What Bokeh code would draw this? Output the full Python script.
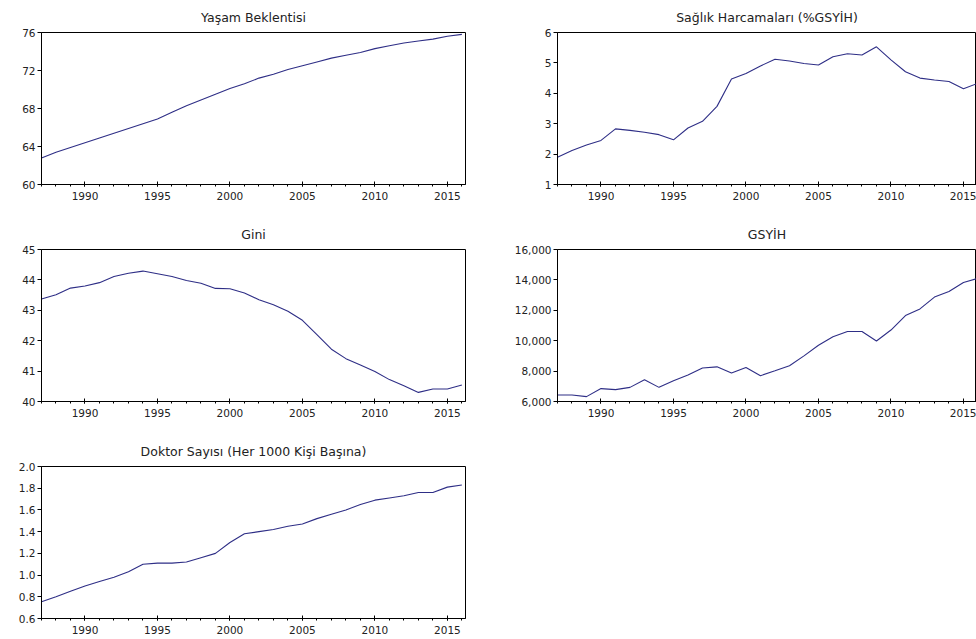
from bokeh.plotting import figure
from bokeh.layouts import column, row
from bokeh.models import FixedTicker, NumeralTickFormatter, Range1d
from bokeh.embed import file_html
from bokeh.resources import INLINE

years = list(range(1987, 2017))

yasam = [62.8, 63.4, 63.9, 64.4, 64.9, 65.4, 65.9, 66.4, 66.9, 67.6,
         68.3, 68.9, 69.5, 70.1, 70.6, 71.2, 71.6, 72.1, 72.5, 72.9,
         73.3, 73.6, 73.9, 74.3, 74.6, 74.9, 75.1, 75.3, 75.6, 75.8]

saglik = [1.90, 2.12, 2.30, 2.45, 2.83, 2.78, 2.72, 2.64, 2.47, 2.86,
          3.08, 3.57, 4.47, 4.65, 4.90, 5.12, 5.06, 4.98, 4.93, 5.20,
          5.30, 5.26, 5.53, 5.10, 4.71, 4.50, 4.44, 4.39, 4.15, 4.33]

gini = [43.37, 43.51, 43.73, 43.80, 43.91, 44.11, 44.22, 44.29, 44.20, 44.11,
        43.98, 43.89, 43.72, 43.71, 43.57, 43.35, 43.18, 42.97, 42.67, 42.20,
        41.72, 41.41, 41.20, 40.99, 40.72, 40.52, 40.30, 40.41, 40.41, 40.54]

gsyih = [6430, 6430, 6320, 6850, 6780, 6930, 7430, 6930, 7370, 7740,
         8200, 8280, 7870, 8240, 7700, 8020, 8350, 9000, 9700, 10260,
         10610, 10610, 9980, 10700, 11650, 12090, 12870, 13240, 13830, 14100]

doktor = [0.754, 0.80, 0.85, 0.90, 0.94, 0.98, 1.03, 1.10, 1.11, 1.11,
          1.12, 1.16, 1.20, 1.30, 1.38, 1.40, 1.42, 1.45, 1.47, 1.52,
          1.56, 1.60, 1.65, 1.69, 1.71, 1.73, 1.76, 1.76, 1.81, 1.83]

x_major = [1990, 1995, 2000, 2005, 2010, 2015]

titles = ["Yaşam Beklentisi", "Sağlık Harcamaları (%GSYİH)", "Gini", "GSYİH",
          "Doktor Sayısı (Her 1000 Kişi Başına)"]

yticks_yasam = [60, 64, 68, 72, 76]
yticks_saglik = [1, 2, 3, 4, 5, 6]
yticks_gini = [40, 41, 42, 43, 44, 45]
yticks_gsyih = [6000, 8000, 10000, 12000, 14000, 16000]
yticks_doktor = [0.6, 0.8, 1.0, 1.2, 1.4, 1.6, 1.8, 2.0]

LINE = "#2e2e86"
FONT = "DejaVu Sans"
TXT = "#222222"


def make(title, ys, yticks, fmt, right, last=False):
    if right:
        width, mbl, mbr, x_end = 498, 79, 0, 2015.9
    else:
        width, mbl, mbr, x_end = 478, 41, 13, 2016.25
    height = 204 if last else 217
    mbb = 20 if last else 217 - 31 - 153
    p = figure(width=width, height=height, output_backend="svg",
               toolbar_location=None, title=title,
               x_range=Range1d(1987, x_end),
               y_range=Range1d(yticks[0], yticks[-1]),
               min_border_left=mbl, min_border_right=mbr,
               min_border_top=31, min_border_bottom=mbb)
    p.title.align = "center"
    p.title.text_font = FONT
    p.title.text_font_size = "12.5px"
    p.title.text_font_style = "normal"
    p.title.text_color = TXT
    p.title.text_line_height = 1.0
    p.title.standoff = 15
    p.xgrid.visible = False
    p.ygrid.visible = False
    p.outline_line_color = "black"
    p.outline_line_width = 1
    p.background_fill_color = "white"
    p.border_fill_color = "white"

    p.xaxis.ticker = FixedTicker(ticks=x_major, minor_ticks=years)
    p.yaxis.ticker = FixedTicker(ticks=yticks, minor_ticks=[])
    if fmt:
        p.yaxis.formatter = NumeralTickFormatter(format=fmt)
    for ax in (p.xaxis[0], p.yaxis[0]):
        ax.axis_line_color = "black"
        ax.axis_line_width = 1
        ax.major_tick_line_color = "black"
        ax.minor_tick_line_color = "black"
        ax.major_label_text_font = FONT
        ax.major_label_text_font_size = "10.5px"
        ax.major_label_text_color = TXT
    p.xaxis.major_tick_in = 3
    p.xaxis.major_tick_out = 2
    p.xaxis.minor_tick_in = 0
    p.xaxis.minor_tick_out = 2
    p.xaxis.major_label_standoff = 5
    p.yaxis.major_tick_in = 0
    p.yaxis.major_tick_out = 4
    p.yaxis.major_label_standoff = 2

    p.line(years, ys, line_color=LINE, line_width=1.1)
    return p


p1 = make(titles[0], yasam, yticks_yasam, "0", False)
p2 = make(titles[1], saglik, yticks_saglik, "0", True)
p3 = make(titles[2], gini, yticks_gini, "0", False)
p4 = make(titles[3], gsyih, yticks_gsyih, "0,0", True)
p5 = make(titles[4], doktor, yticks_doktor, "0.0", False, last=True)

layout = column(row(p1, p2), row(p3, p4), row(p5))

open("out.html", "w").write(file_html(layout, INLINE))
